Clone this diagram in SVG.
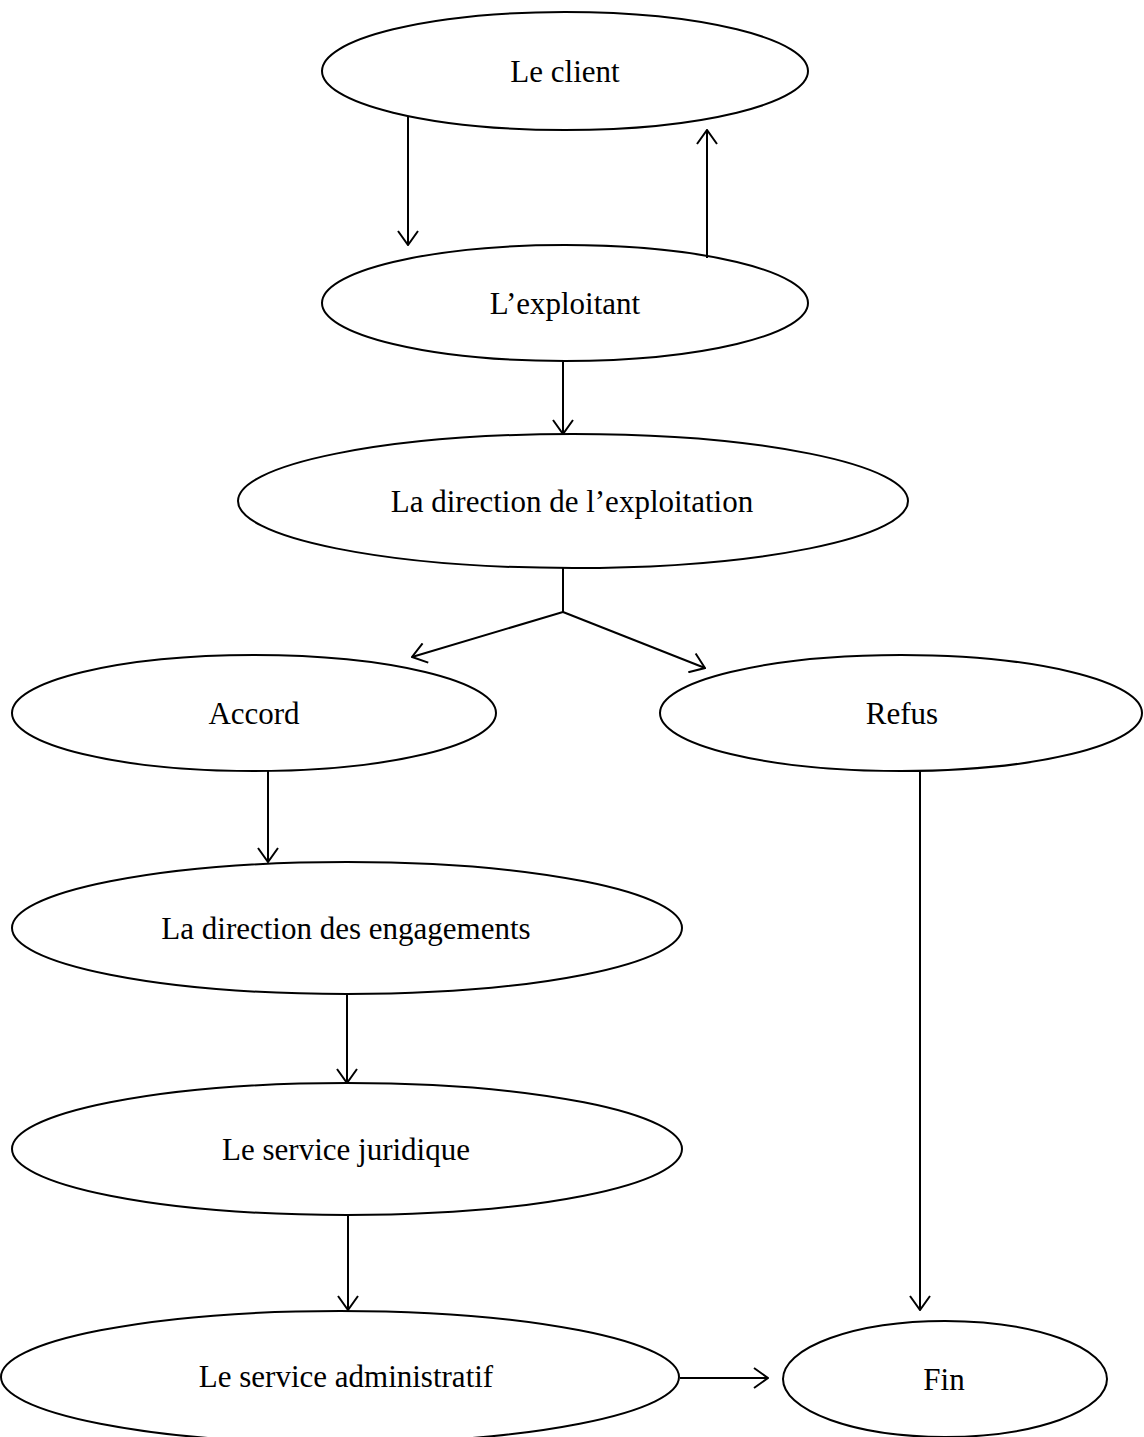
<svg xmlns="http://www.w3.org/2000/svg" width="1144" height="1437" viewBox="0 0 1144 1437">
<style>
.node ellipse{fill:#fff;stroke:#000;stroke-width:2}
.node text{font-family:"Liberation Serif","Times New Roman",serif;font-size:31px;fill:#000;text-anchor:middle}
.conn line,.conn polyline{stroke:#000;stroke-width:2;fill:none}
</style>
<defs>
<marker id="arr" viewBox="0 0 16 22" refX="15" refY="11" markerWidth="16" markerHeight="22" markerUnits="userSpaceOnUse" orient="auto">
<path d="M1,1 L15,11 L1,21" fill="none" stroke="#000" stroke-width="2"/>
</marker>
</defs>
<rect width="1144" height="1437" fill="#fff"/>
<g id="n-client" class="node"><ellipse cx="565" cy="71" rx="243" ry="59"/><text x="565" y="82">Le client</text></g>
<g id="n-exploitant" class="node"><ellipse cx="565" cy="303" rx="243" ry="58"/><text x="565" y="314">L’exploitant</text></g>
<g id="n-direxp" class="node"><ellipse cx="573" cy="501" rx="335" ry="67"/><text x="572" y="512">La direction de l’exploitation</text></g>
<g id="n-accord" class="node"><ellipse cx="254" cy="713" rx="242" ry="58"/><text x="254" y="724">Accord</text></g>
<g id="n-refus" class="node"><ellipse cx="901" cy="713" rx="241" ry="58"/><text x="902" y="724">Refus</text></g>
<g id="n-engag" class="node"><ellipse cx="347" cy="928" rx="335" ry="66"/><text x="346" y="939">La direction des engagements</text></g>
<g id="n-jur" class="node"><ellipse cx="347" cy="1149" rx="335" ry="66"/><text x="346" y="1160">Le service juridique</text></g>
<g id="n-admin" class="node"><ellipse cx="340" cy="1377" rx="339" ry="66"/><text x="346" y="1387">Le service administratif</text></g>
<g id="n-fin" class="node"><ellipse cx="945" cy="1379" rx="162" ry="58"/><text x="944" y="1390">Fin</text></g>
<g id="connectors" class="conn">
<line x1="408" y1="117" x2="408" y2="245" marker-end="url(#arr)"/>
<line x1="707" y1="258" x2="707" y2="130" marker-end="url(#arr)"/>
<line x1="563" y1="362" x2="563" y2="434" marker-end="url(#arr)"/>
<polyline points="563,568 563,612 412,657" marker-end="url(#arr)"/>
<polyline points="563,612 705,668" marker-end="url(#arr)"/>
<line x1="268" y1="771" x2="268" y2="862" marker-end="url(#arr)"/>
<line x1="347" y1="994" x2="347" y2="1083" marker-end="url(#arr)"/>
<line x1="348" y1="1215" x2="348" y2="1310" marker-end="url(#arr)"/>
<line x1="680" y1="1378" x2="768" y2="1378" marker-end="url(#arr)"/>
<line x1="920" y1="771" x2="920" y2="1310" marker-end="url(#arr)"/>
</g>
</svg>
